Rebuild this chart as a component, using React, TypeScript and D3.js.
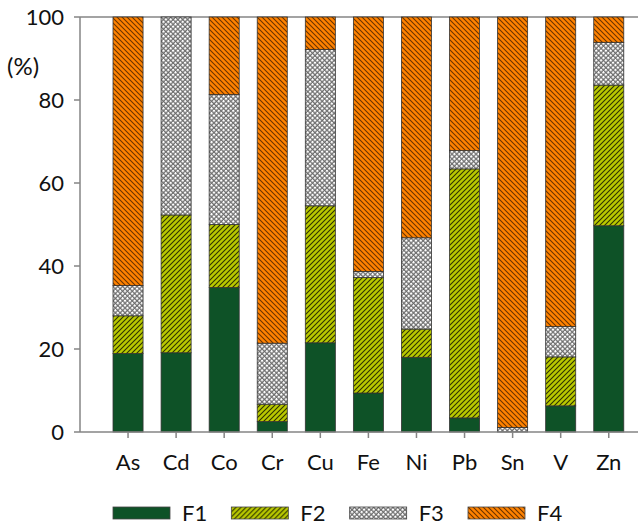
import React from 'react';
import * as d3 from 'd3';

const elements = ['As', 'Cd', 'Co', 'Cr', 'Cu', 'Fe', 'Ni', 'Pb', 'Sn', 'V', 'Zn'];
const f1 = [18.9, 19.1, 34.8, 2.5, 21.5, 9.4, 18.0, 3.4, 0, 6.3, 49.7];
const f2 = [9.1, 33.2, 15.2, 4.2, 33.0, 27.8, 6.8, 60.0, 0, 11.8, 33.9];
const f3 = [7.3, 47.7, 31.3, 14.7, 37.7, 1.5, 22.0, 4.4, 1.1, 7.3, 10.3];
const f4 = [64.7, 0, 18.7, 78.6, 7.8, 61.3, 53.2, 32.2, 98.9, 74.6, 6.1];
const yTicks = [0, 20, 40, 60, 80, 100];
const fractions = ['F1', 'F2', 'F3', 'F4'];

const FILLS = ['#0e5227', 'url(#hatch-f2)', 'url(#check-f3)', 'url(#hatch-f4)'];
const FONT = 'Lato, "Open Sans", sans-serif';
const AXIS = '#858585';

export default function App() {
  const width = 638;
  const height = 526;
  const left = 80;
  const top = 17;
  const bottom = 432;

  const x = d3.scaleBand<string>()
    .domain(elements)
    .range([104, 632.8])
    .paddingInner(0.375)
    .paddingOuter(0.1875);
  const y = d3.scaleLinear().domain([0, 100]).range([bottom, top]);

  const series = [f1, f2, f3, f4];
  const rows = elements.map((el, i) => {
    const r: any = { el };
    fractions.forEach((f, k) => { r[f] = series[k][i]; });
    return r;
  });
  const stacked = d3.stack<any>().keys(fractions)(rows);

  const legendX = d3.scaleLinear().domain([0, 3]).range([113, 468]);

  return (
    <svg width={width} height={height} style={{ position: 'absolute', left: 0, top: 0 }}>
      <defs>
        <pattern id="hatch-f2" patternUnits="userSpaceOnUse" width="5" height="5">
          <rect width="5" height="5" fill="#b9c900" />
          <path d="M-1,1 l2,-2 M0,5 l5,-5 M4,6 l2,-2" stroke="#2e3300" strokeWidth="1.1" />
        </pattern>
        <pattern id="hatch-f4" patternUnits="userSpaceOnUse" width="5" height="5">
          <rect width="5" height="5" fill="#ff8200" />
          <path d="M-1,4 l2,2 M0,0 l5,5 M4,-1 l2,2" stroke="#6b3300" strokeWidth="1.1" />
        </pattern>
        <pattern id="check-f3" patternUnits="userSpaceOnUse" width="3.4" height="3.4" patternTransform="rotate(45)">
          <rect width="3.4" height="3.4" fill="#6a6a6a" />
          <rect x="0.8" y="0.8" width="2.2" height="2.2" fill="#ffffff" />
        </pattern>
      </defs>

      {/* top border */}
      <line x1={left} x2={width} y1={top} y2={top} stroke={AXIS} strokeWidth={1.5} />

      {stacked.map((layer, k) => (
        <g key={layer.key}>
          {layer.map((d, i) => {
            const h = y(d[0]) - y(d[1]);
            if (h <= 0) return null;
            return (
              <rect key={i}
                x={x(elements[i])}
                y={y(d[1])}
                width={x.bandwidth()}
                height={h}
                fill={FILLS[k]}
                stroke="#333"
                strokeWidth={0.8} />
            );
          })}
        </g>
      ))}

      {/* y axis */}
      <line x1={left} x2={left} y1={top} y2={bottom} stroke={AXIS} strokeWidth={1.5} />
      {yTicks.map(t => (
        <g key={t}>
          <line x1={left - 6} x2={left} y1={y(t)} y2={y(t)} stroke={AXIS} strokeWidth={1.5} />
          <text x={64} y={y(t) + 8} textAnchor="end" fontFamily={FONT} fontSize={22} fill="#111">{t}</text>
        </g>
      ))}
      <text x={7} y={75} fontFamily={FONT} fontSize={24} fill="#111">(%)</text>

      {/* x axis */}
      <line x1={left} x2={width} y1={bottom} y2={bottom} stroke={AXIS} strokeWidth={1.5} />
      {elements.map(el => {
        const cx = (x(el) as number) + x.bandwidth() / 2;
        return (
          <g key={el}>
            <line x1={cx} x2={cx} y1={bottom} y2={bottom + 6} stroke={AXIS} strokeWidth={1.5} />
            <text x={cx} y={470} textAnchor="middle" fontFamily={FONT} fontSize={22} fill="#111">{el}</text>
          </g>
        );
      })}

      {/* legend */}
      {fractions.map((f, k) => (
        <g key={f} transform={`translate(${legendX(k)},507)`}>
          <rect width={57} height={12} fill={FILLS[k]} stroke="#444" strokeWidth={0.8} />
          <text x={69} y={14} fontFamily={FONT} fontSize={22} fill="#111">{f}</text>
        </g>
      ))}
    </svg>
  );
}
